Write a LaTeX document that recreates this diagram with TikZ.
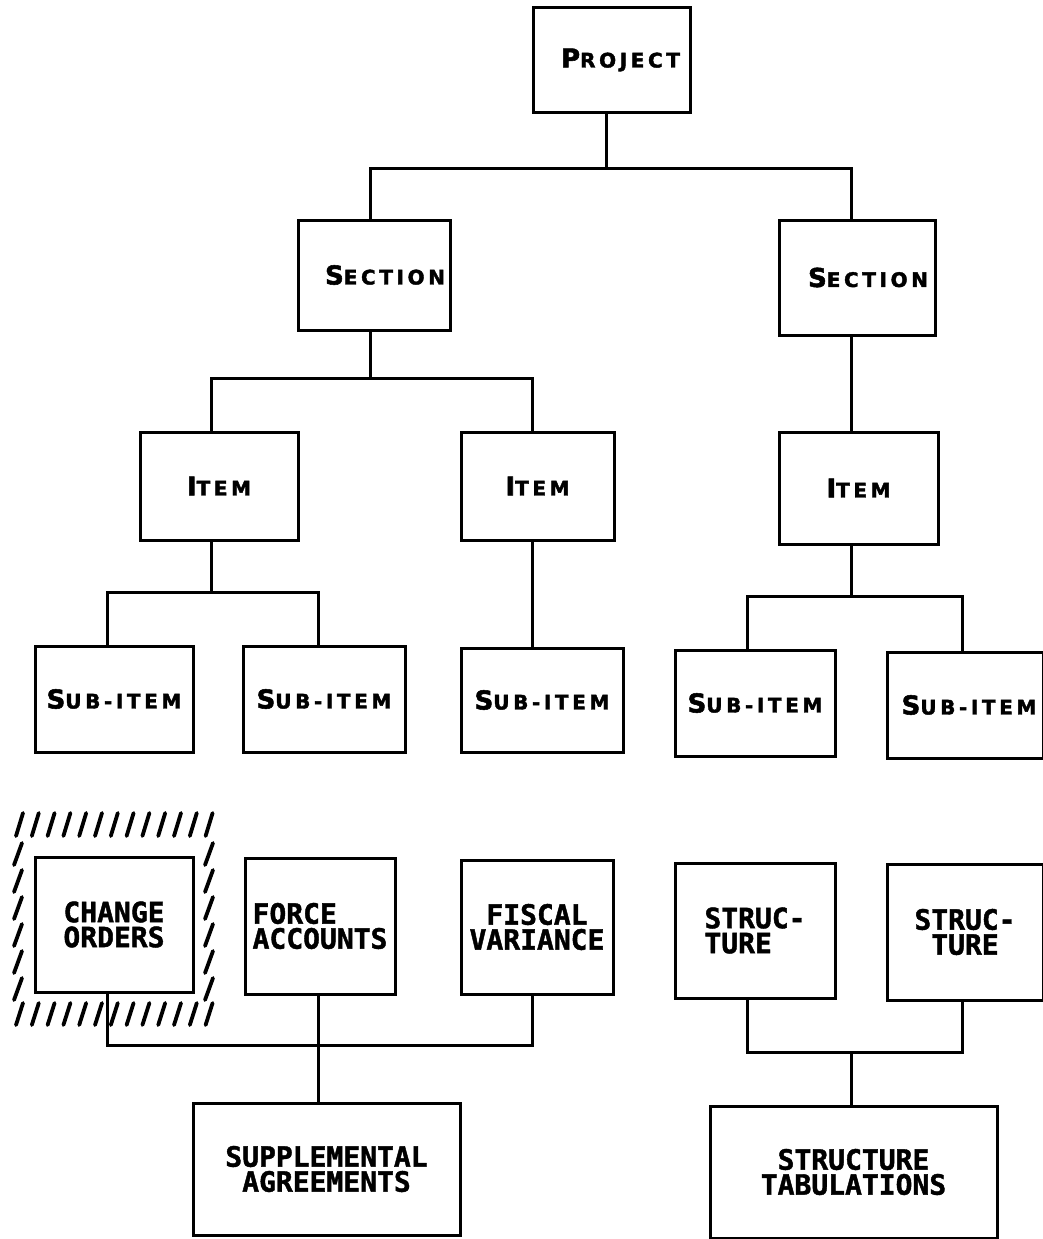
\documentclass[tikz,border=0pt]{standalone}
\usepackage{fontspec}
\newfontfamily\hdfont[LetterSpace=18,FakeBold=2]{DejaVu Sans}
\newfontfamily\lbfont[FakeBold=1.5]{DejaVu Sans Mono}
\newcommand\hcap[2]{{\hdfont\bfseries{\fontsize{26}{26}\selectfont #1}{\fontsize{20}{20}\selectfont #2}}}
\begin{document}
\begin{tikzpicture}[x=1pt,y=-1pt,
  box/.style={draw,line width=3pt,inner sep=0pt,outer sep=0pt,fill=white},
  lab/.style={font=\lbfont\bfseries\fontsize{28}{25}\selectfont,align=center},
  conn/.style={line width=3pt},
  hatch/.style={line width=3.8pt,line cap=round}]
\useasboundingbox (0,0) rectangle (1042,1239);
\newcommand\bx[6]{\node[box,minimum width={#4-#2},minimum height={#5-#3},#6] (#1) at ({(#2+#4)/2},{(#3+#5)/2})}
% top rows
\bx{proj}{533}{8}{690}{112}{}{\hspace*{18pt}\hcap{P}{ROJECT}};
\bx{sec1}{298}{220}{450}{330}{}{\hspace*{22pt}\hcap{S}{ECTION}};
\bx{sec2}{779}{220}{935}{335}{}{\hspace*{22pt}\hcap{S}{ECTION}};
\bx{item1}{140}{432}{298}{540}{}{\hcap{I}{TEM}};
\bx{item2}{461}{432}{614}{540}{}{\hcap{I}{TEM}};
\bx{item3}{779}{432}{938}{544}{}{\hcap{I}{TEM}};
\bx{si1}{35}{646}{193}{752}{}{\hcap{S}{UB-ITEM}};
\bx{si2}{243}{646}{405}{752}{}{\hcap{S}{UB-ITEM}};
\bx{si3}{461}{648}{623}{752}{}{\hcap{S}{UB-ITEM}};
\bx{si4}{675}{650}{835}{756}{}{\hcap{S}{UB-ITEM}};
\bx{si5}{887}{652}{1043}{758}{}{\hspace*{8pt}\hcap{S}{UB-ITEM}};
% bottom rows
\bx{co}{35}{857}{193}{992}{lab}{CHANGE\\ORDERS};
\bx{fa}{245}{858}{395}{994}{lab,align=left}{FORCE\\ACCOUNTS};
\bx{fv}{461}{860}{613}{994}{lab}{FISCAL\\VARIANCE};
\bx{st1}{675}{863}{835}{998}{lab,align=left}{STRUC-\\TURE};
\bx{st2}{887}{864}{1043}{1000}{lab}{STRUC-\\TURE};
\bx{sa}{193}{1103}{460}{1235}{lab}{SUPPLEMENTAL\\AGREEMENTS};
\bx{stt}{710}{1106}{997}{1238}{lab}{STRUCTURE\\TABULATIONS};
% junctions
\coordinate (j1) at (606,168);
\coordinate (j1r) at (851,168);
\coordinate (j2) at (370,378);
\coordinate (j2r) at (532,378);
\coordinate (j3) at (211,592);
\coordinate (j3r) at (318,592);
\coordinate (j4) at (851,596);
\coordinate (j4r) at (962,596);
\coordinate (j5r) at (532,1045);
\coordinate (j6) at (851,1052);
\coordinate (j6r) at (962,1052);
% connectors
\draw[conn] (proj.south -| j1) -- (j1);
\draw[conn] (sec1.north -| j2) |- (j1r) -- (sec2.north -| j1r);
\draw[conn] (sec1.south -| j2) -- (j2);
\draw[conn] (item1.north -| j3) |- (j2r) -- (item2.north -| j2r);
\draw[conn] (sec2.south -| j4) -- (item3.north -| j4);
\draw[conn] (item1.south -| j3) -- (j3);
\draw[conn] (si1.north -| 107,0) |- (j3r) -- (si2.north -| j3r);
\draw[conn] (item2.south -| j2r) -- (si3.north -| j2r);
\draw[conn] (item3.south -| j4) -- (j4);
\draw[conn] (si4.north -| 747,0) |- (j4r) -- (si5.north -| j4r);
\draw[conn] (co.south -| 107,0) |- (j5r) -- (fv.south -| j5r);
\draw[conn] (fa.south -| j3r) -- (sa.north -| j3r);
\draw[conn] (st1.south -| 747,0) |- (j6r) -- (st2.south -| j6r);
\draw[conn] (j6) -- (stt.north -| j6);
% hatching around change orders
\foreach \i in {0,...,12}{
  \pgfmathsetmacro\xt{23+\i*15.8}
  \draw[hatch] (\xt-7,836) -- (\xt,813);
  \draw[hatch] (\xt-7,1025) -- (\xt,1003);
}
\foreach \j in {0,...,5}{
  \pgfmathsetmacro\yt{843+\j*27}
  \draw[hatch] (14,\yt+22) -- (22,\yt);
  \draw[hatch] (205,\yt+22) -- (213,\yt);
}
\end{tikzpicture}
\end{document}
